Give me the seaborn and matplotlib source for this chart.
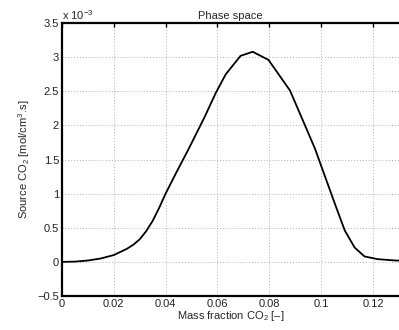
import matplotlib
matplotlib.use("Agg")
import matplotlib.pyplot as plt
import seaborn as sns
import pandas as pd

mass_fraction = [0, 0.005, 0.01, 0.015, 0.02, 0.025, 0.0275, 0.03, 0.0325, 0.035,
                 0.0375, 0.04, 0.044, 0.0484, 0.0504, 0.055, 0.0594, 0.0632, 0.0689,
                 0.0736, 0.0797, 0.088, 0.0976, 0.1014, 0.1052, 0.1091, 0.1129,
                 0.1167, 0.1218, 0.1288, 0.13]
source_e3 = [0, 0.004, 0.02, 0.05, 0.10, 0.19, 0.25, 0.33, 0.45, 0.60,
             0.79, 1.0, 1.30, 1.62, 1.77, 2.12, 2.48, 2.75, 3.02,
             3.08, 2.96, 2.51, 1.66, 1.26, 0.86, 0.46, 0.21,
             0.08, 0.04, 0.02, 0.02]

df = pd.DataFrame({"x": mass_fraction, "y": source_e3})

sns.set_style("white")
plt.rcParams["font.family"] = ["Liberation Sans", "DejaVu Sans"]
plt.rcParams["mathtext.fontset"] = "custom"
plt.rcParams["mathtext.rm"] = "Liberation Sans"
plt.rcParams["mathtext.it"] = "Liberation Sans"

fig = plt.figure(figsize=(3.99, 3.30), dpi=100)
ax = fig.add_axes([0.155, 0.103, 0.845, 0.827])
sns.lineplot(data=df, x="x", y="y", ax=ax, color="black", linewidth=1.3)

ax.set_xlim(0, 0.13)
ax.set_ylim(-0.5, 3.5)
ax.set_yticks([-0.5, 0, 0.5, 1, 1.5, 2, 2.5, 3, 3.5])
ax.set_yticklabels(["\u22120.5", "0", "0.5", "1", "1.5", "2", "2.5", "3", "3.5"])
ax.set_xticks([0, 0.02, 0.04, 0.06, 0.08, 0.1, 0.12])
ax.set_xticklabels(["0", "0.02", "0.04", "0.06", "0.08", "0.1", "0.12"])

ax.grid(True, linestyle=(0, (1, 2)), color="#b0b0b0", linewidth=0.7)
ax.tick_params(direction="in", length=3, width=1, labelsize=8, pad=2,
               top=True, right=False, colors="black", labelcolor="#222222")
for s in ax.spines.values():
    s.set_linewidth(1.6)
    s.set_color("black")
ax.spines["right"].set_visible(False)

ax.set_title("Phase space", fontsize=8, pad=3)
ax.set_xlabel("Mass fraction CO$_2$ [\u2013]", fontsize=8, labelpad=0)
ax.set_ylabel("Source CO$_2$ [mol/cm$^3$.s]", fontsize=8, labelpad=4)
ax.text(0.0, 1.005, "x 10$^{-3}$", transform=ax.transAxes, fontsize=8,
        ha="left", va="bottom")

fig.savefig("out.png", dpi=100)
